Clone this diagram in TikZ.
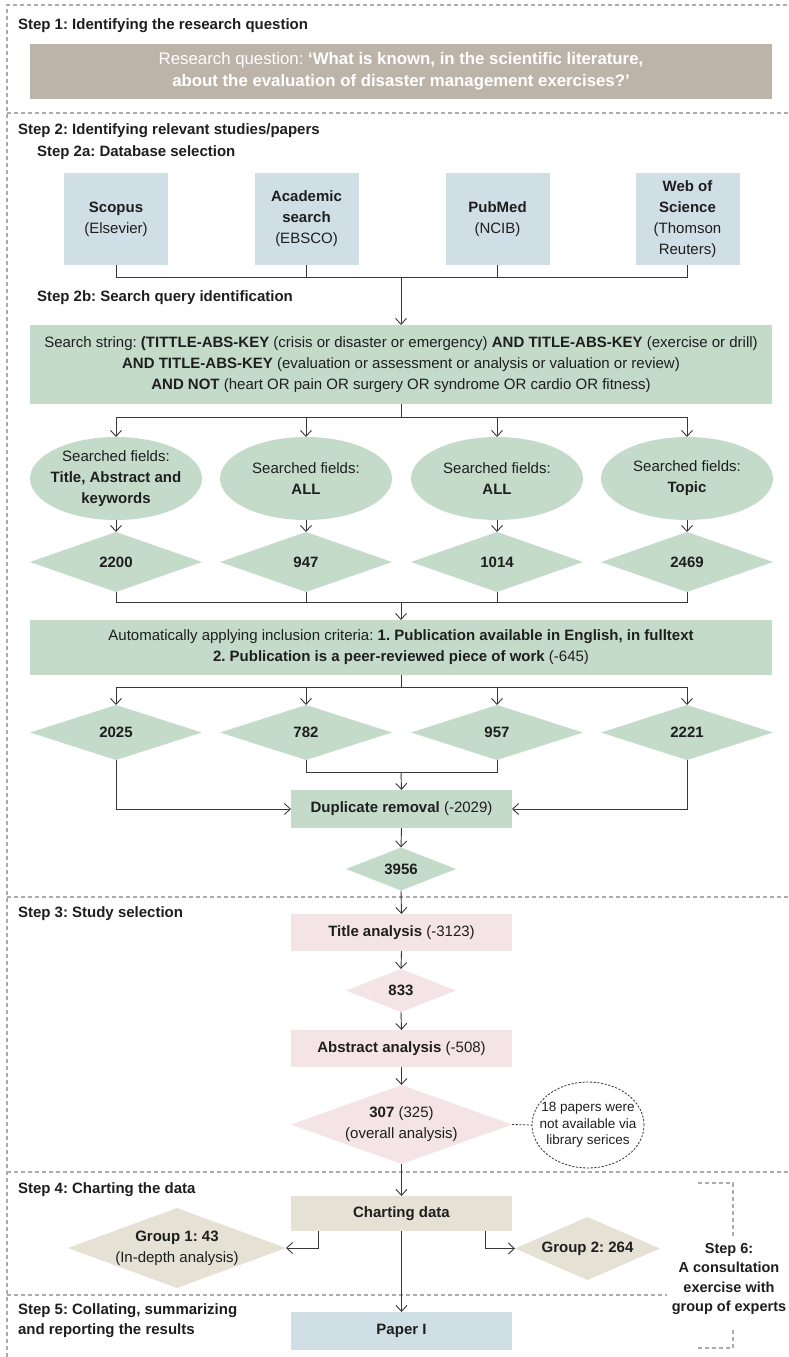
\documentclass[tikz,border=0pt]{standalone}
\usepackage{fontspec}
\setmainfont{Liberation Sans}
\usetikzlibrary{shapes.geometric,arrows.meta}
\frenchspacing

\definecolor{rqcol}{RGB}{188,180,168}
\definecolor{dbcol}{RGB}{208,223,230}
\definecolor{grn}{RGB}{197,219,202}
\definecolor{pnk}{RGB}{244,228,231}
\definecolor{tpe}{RGB}{229,225,212}
\definecolor{sepcol}{RGB}{172,172,172}
\definecolor{ink}{RGB}{30,30,30}
\definecolor{lnk}{RGB}{55,55,55}

\begin{document}
\begin{tikzpicture}[x=1pt,y=-1pt,
  every node/.style={font=\fontsize{15}{21}\selectfont, text=ink, inner sep=0pt, outer sep=0pt},
  blk/.style n args={3}{rectangle, fill=#1, minimum width=#2, minimum height=#3, align=center},
  dia/.style n args={3}{diamond, fill=#1, minimum width=#2, minimum height=#3},
  fld/.style={ellipse, fill=grn, minimum width=172, minimum height=83},
  steptitle/.style={anchor=west, align=left, font=\fontsize{15}{20}\selectfont\bfseries},
  link/.style={draw=lnk, line width=0.9pt},
  arr/.style={link, -{Straight Barb[length=6pt,width=11pt]}},
  sepline/.style={draw=sepcol, line width=1.3pt, dash pattern=on 4pt off 3pt},
  notelink/.style={draw=lnk, line width=0.8pt, dash pattern=on 2.2pt off 1.5pt},
]
\useasboundingbox (0,0) rectangle (788,1357);

% section frame and separators
\draw[sepline] (7,1357) -- (7,5) -- (788,5);
\draw[sepline] (7,113) -- (788,113);
\draw[sepline] (7,897) -- (788,897);
\draw[sepline] (7,1172) -- (788,1172);
\draw[sepline] (7,1295) -- (667,1295);
% bracket of step 6
\draw[sepline] (698,1183) -- (733,1183) -- (733,1238);
\draw[sepline] (733,1330) -- (733,1348) -- (698,1348);

% step titles
\node[steptitle] (s1) at (18,26) {Step 1: Identifying the research question};
\node[steptitle] (s2) at (18,131) {Step 2: Identifying relevant studies/papers};
\node[steptitle] (s2a) at (37,153) {Step 2a: Database selection};
\node[steptitle] (s2b) at (37,298) {Step 2b: Search query identification};
\node[steptitle] (s3) at (18,914) {Step 3: Study selection};
\node[steptitle] (s4) at (18,1190) {Step 4: Charting the data};
\node[steptitle] (s5) at (18,1321) {Step 5: Collating, summarizing\\and reporting the results};
\node[align=center, font=\fontsize{14.5}{19.5}\selectfont\bfseries] (s6) at (729,1279)
  {Step 6:\\A consultation\\exercise with\\group of experts};

% step 1
\node[blk={rqcol}{742}{55}, text=white, font=\fontsize{16.8}{22}\selectfont] (rq) at (401,71.5)
  {Research question: \textbf{‘What is known, in the scientific literature,}\\
   \textbf{about the evaluation of disaster management exercises?’}};

% step 2a: databases
\node[blk={dbcol}{104}{92}] (db1) at (116,219) {\textbf{Scopus}\\(Elsevier)};
\node[blk={dbcol}{104}{92}] (db2) at (306.5,219) {\textbf{Academic}\\\textbf{search}\\(EBSCO)};
\node[blk={dbcol}{104}{92}] (db3) at (497.5,219) {\textbf{PubMed}\\(NCIB)};
\node[blk={dbcol}{104}{92}] (db4) at (687.5,219) {\textbf{Web of}\\\textbf{Science}\\(Thomson\\Reuters)};

% step 2b: search string
\node[blk={grn}{742}{79}] (srch) at (401,364.5)
  {Search string: \textbf{(TITTLE-ABS-KEY} (crisis or disaster or emergency) \textbf{AND TITLE-ABS-KEY} (exercise or drill)\\
   \textbf{AND TITLE-ABS-KEY} (evaluation or assessment or analysis or valuation or review)\\
   \textbf{AND NOT} (heart OR pain OR surgery OR syndrome OR cardio OR fitness)};

% searched fields
\node[fld, label={[align=center]center:{Searched fields:\\\textbf{Title, Abstract and}\\\textbf{keywords}}}] (e1) at (116,478.5) {};
\node[fld, label={[align=center]center:{Searched fields:\\\textbf{ALL}}}] (e2) at (306,478.5) {};
\node[fld, label={[align=center]center:{Searched fields:\\\textbf{ALL}}}] (e3) at (497,478.5) {};
\node[fld, label={[align=center]center:{Searched fields:\\\textbf{Topic}}}] (e4) at (687,478.5) {};

% hits per database
\node[dia={grn}{172}{60}, label={center:\textbf{2200}}] (a1) at (116,562) {};
\node[dia={grn}{172}{60}, label={center:\textbf{947}}] (a2) at (306,562) {};
\node[dia={grn}{172}{60}, label={center:\textbf{1014}}] (a3) at (497,562) {};
\node[dia={grn}{172}{60}, label={center:\textbf{2469}}] (a4) at (687,562) {};

% inclusion criteria
\node[blk={grn}{742}{55}] (incl) at (401,647.5)
  {Automatically applying inclusion criteria: \textbf{1. Publication available in English, in fulltext}\\
   \textbf{2. Publication is a peer-reviewed piece of work} (-645)};

\node[dia={grn}{172}{55}, label={center:\textbf{2025}}] (b1) at (116,732.5) {};
\node[dia={grn}{172}{55}, label={center:\textbf{782}}] (b2) at (306,732.5) {};
\node[dia={grn}{172}{55}, label={center:\textbf{957}}] (b3) at (497,732.5) {};
\node[dia={grn}{172}{55}, label={center:\textbf{2221}}] (b4) at (687,732.5) {};

\node[blk={grn}{221}{38}] (dup) at (401.5,809) {\textbf{Duplicate removal} (-2029)};
\node[dia={grn}{110}{43}, label={center:\textbf{3956}}] (d3956) at (401,869) {};

% step 3
\node[blk={pnk}{221}{37}] (title) at (401.5,932.5) {\textbf{Title analysis} (-3123)};
\node[dia={pnk}{110}{43}, label={center:\textbf{833}}] (d833) at (401,990.5) {};
\node[blk={pnk}{221}{37}] (abs) at (401.5,1048.5) {\textbf{Abstract analysis} (-508)};
\node[dia={pnk}{221}{79}, label={[align=center]center:{\textbf{307} (325)\\(overall analysis)}}] (d307) at (401.5,1124.5) {};
\node[ellipse, draw=lnk, line width=0.8pt, dash pattern=on 2.2pt off 1.5pt,
      minimum width=112, minimum height=86,
      label={[align=center, font=\fontsize{13.5}{16.5}\selectfont]center:{18 papers were\\not available via\\library serices}}] (note) at (588,1125) {};

% step 4 and 5
\node[blk={tpe}{221}{35}] (chart) at (401.5,1213.5) {\textbf{Charting data}};
\node[dia={tpe}{218}{80}, label={[align=center]center:{\textbf{Group 1: 43}\\(In-depth analysis)}}] (g1) at (177,1248) {};
\node[dia={tpe}{145}{63}, label={center:\textbf{Group 2: 264}}] (g2) at (587.5,1248.5) {};
\node[blk={dbcol}{221}{38}] (paper) at (401.5,1331) {\textbf{Paper I}};

% junction points
\coordinate (j1) at (401,277);
\coordinate (j2) at (401,417);
\coordinate (j3) at (401,602);
\coordinate (j4) at (401,687);
\coordinate (j5) at (401,772);

% databases -> search string
\draw[link] (db1.south) -- (db1.south |- j1) -- (db4.south |- j1) -- (db4.south);
\draw[link] (db2.south) -- (db2.south |- j1);
\draw[link] (db3.south) -- (db3.south |- j1);
\draw[arr] (j1) -- (srch.north);

% search string -> fields
\draw[link] (srch.south) -- (j2);
\draw[link] (e1.north |- j2) -- (e4.north |- j2);
\foreach \n in {e1,e2,e3,e4} \draw[arr] (\n.north |- j2) -- (\n.north);

% fields -> hits
\draw[arr] (e1.south) -- (a1.north);
\draw[arr] (e2.south) -- (a2.north);
\draw[arr] (e3.south) -- (a3.north);
\draw[arr] (e4.south) -- (a4.north);

% hits -> inclusion
\draw[link] (a1.south) -- (a1.south |- j3) -- (a4.south |- j3) -- (a4.south);
\draw[link] (a2.south) -- (a2.south |- j3);
\draw[link] (a3.south) -- (a3.south |- j3);
\draw[arr] (j3) -- (incl.north);

% inclusion -> filtered hits
\draw[link] (incl.south) -- (j4);
\draw[link] (b1.north |- j4) -- (b4.north |- j4);
\foreach \n in {b1,b2,b3,b4} \draw[arr] (\n.north |- j4) -- (\n.north);

% filtered hits -> duplicate removal
\draw[link] (b2.south) -- (b2.south |- j5) -- (b3.south |- j5) -- (b3.south);
\draw[arr] (j5) -- (dup.north);
\draw[arr] (b1.south) |- (dup.west);
\draw[arr] (b4.south) |- (dup.east);

% main chain
\draw[arr] (dup.south) -- (d3956.north);
\draw[arr] (d3956.south) -- (title.north);
\draw[arr] (title.south) -- (d833.north);
\draw[arr] (d833.south) -- (abs.north);
\draw[arr] (abs.south) -- (d307.north);
\draw[notelink] (d307.east) -- (note.west);
\draw[arr] (d307.south) -- (chart.north);
\draw[arr] ([xshift=-83.5pt]chart.south) |- (g1.east);
\draw[arr] ([xshift=83.5pt]chart.south) |- (g2.west);
\draw[arr] (chart.south) -- (paper.north);
\end{tikzpicture}
\end{document}
